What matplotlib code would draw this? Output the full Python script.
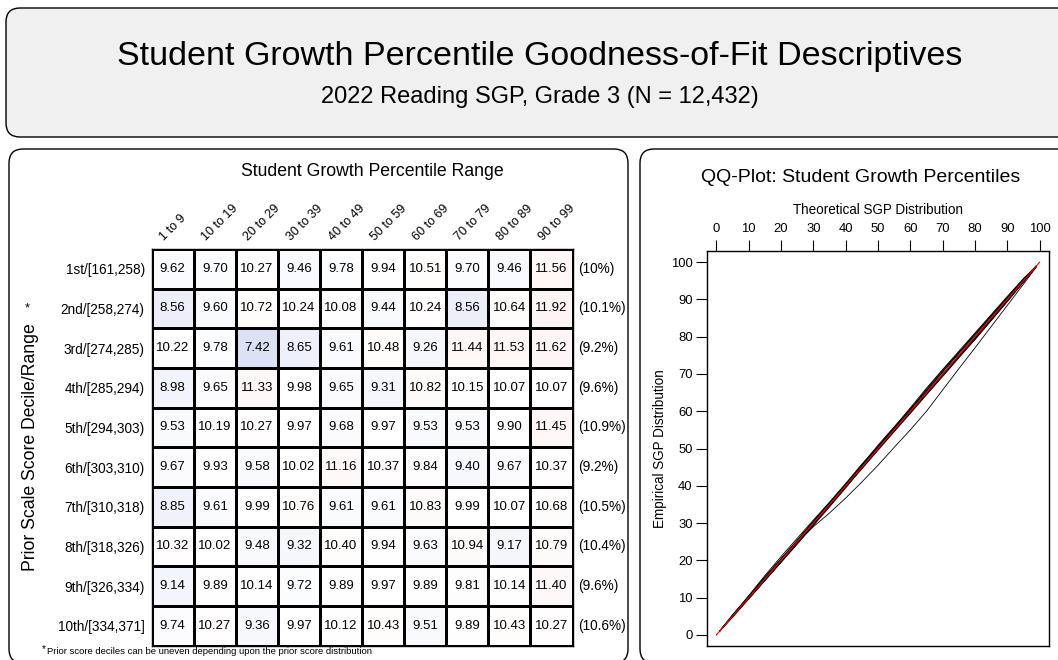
import numpy as np
import matplotlib.pyplot as plt
from matplotlib.patches import FancyBboxPatch
from matplotlib.colors import LinearSegmentedColormap, TwoSlopeNorm

plt.rcParams['font.family'] = ['Liberation Sans', 'DejaVu Sans']

W, H = 1058, 660

# table data: % of students in each SGP range, by prior score decile
col_labels = ["1 to 9", "10 to 19", "20 to 29", "30 to 39", "40 to 49",
              "50 to 59", "60 to 69", "70 to 79", "80 to 89", "90 to 99"]
row_labels = ["1st/[161,258)", "2nd/[258,274)", "3rd/[274,285)", "4th/[285,294)",
              "5th/[294,303)", "6th/[303,310)", "7th/[310,318)", "8th/[318,326)",
              "9th/[326,334)", "10th/[334,371]"]
sgp_pct = np.array([
    [9.62, 9.70, 10.27, 9.46, 9.78, 9.94, 10.51, 9.70, 9.46, 11.56],
    [8.56, 9.60, 10.72, 10.24, 10.08, 9.44, 10.24, 8.56, 10.64, 11.92],
    [10.22, 9.78, 7.42, 8.65, 9.61, 10.48, 9.26, 11.44, 11.53, 11.62],
    [8.98, 9.65, 11.33, 9.98, 9.65, 9.31, 10.82, 10.15, 10.07, 10.07],
    [9.53, 10.19, 10.27, 9.97, 9.68, 9.97, 9.53, 9.53, 9.90, 11.45],
    [9.67, 9.93, 9.58, 10.02, 11.16, 10.37, 9.84, 9.40, 9.67, 10.37],
    [8.85, 9.61, 9.99, 10.76, 9.61, 9.61, 10.83, 9.99, 10.07, 10.68],
    [10.32, 10.02, 9.48, 9.32, 10.40, 9.94, 9.63, 10.94, 9.17, 10.79],
    [9.14, 9.89, 10.14, 9.72, 9.89, 9.97, 9.89, 9.81, 10.14, 11.40],
    [9.74, 10.27, 9.36, 9.97, 10.12, 10.43, 9.51, 9.89, 10.43, 10.27],
])
row_share = ["(10%)", "(10.1%)", "(9.2%)", "(9.6%)", "(10.9%)",
             "(9.2%)", "(10.5%)", "(10.4%)", "(9.6%)", "(10.6%)"]

# QQ plot: empirical SGP quantiles at theoretical points
qq_theory = [1, 5, 10, 15, 20, 25, 30, 35, 40, 45, 50, 55, 60, 65, 70, 75, 80, 85, 90, 95, 99]
qq_lines = [
    [1, 5.0, 10.0, 15.0, 19.8, 24.7, 29.0, 32.7, 36.7, 41.0, 45.5, 50.3, 55.0, 60.0, 65.7, 71.4, 77.0, 82.7, 88.4, 94.1, 98.7],
    [1, 5.3, 10.4, 15.6, 20.5, 25.3, 30.4, 35.5, 40.6, 45.8, 50.6, 55.7, 60.9, 66.2, 71.2, 76.1, 81.0, 85.9, 90.8, 95.6, 99],
    [1, 5.1, 10.2, 15.3, 20.2, 25.1, 30.2, 35.2, 40.3, 45.4, 50.2, 55.3, 60.4, 65.4, 70.5, 75.4, 80.3, 85.3, 90.2, 95.2, 99],
    [1, 4.9, 9.9, 14.8, 19.9, 24.8, 29.8, 34.9, 39.9, 44.8, 49.9, 54.8, 59.8, 64.7, 69.8, 74.8, 79.7, 84.8, 89.8, 94.9, 99],
    [1, 4.7, 9.6, 14.5, 19.5, 24.6, 29.6, 34.6, 39.6, 44.5, 49.5, 54.5, 59.4, 64.4, 69.3, 74.3, 79.2, 84.3, 89.4, 94.6, 98.8],
    [1, 5.2, 10.5, 15.9, 21.0, 25.9, 30.8, 35.6, 40.5, 45.6, 50.9, 55.8, 60.7, 65.6, 70.7, 75.7, 80.6, 85.5, 90.5, 95.4, 99],
    [1, 4.8, 9.7, 14.6, 19.4, 24.3, 29.5, 34.7, 39.8, 44.9, 50.0, 55.1, 60.2, 65.1, 70.0, 74.9, 79.9, 84.9, 89.9, 94.8, 99],
    [1, 5.0, 10.0, 15.1, 20.3, 25.4, 30.5, 35.3, 40.1, 45.1, 50.1, 55.0, 59.9, 64.9, 69.9, 74.6, 79.3, 84.4, 89.5, 94.7, 98.9],
    [1, 5.4, 10.3, 15.2, 20.0, 24.9, 29.9, 35.0, 40.2, 45.3, 50.4, 55.4, 60.4, 65.9, 71.0, 75.8, 80.8, 85.7, 90.6, 95.5, 99],
    [1, 4.9, 9.8, 14.7, 19.6, 24.5, 29.3, 34.3, 39.4, 44.7, 49.8, 54.6, 59.6, 64.6, 69.6, 74.5, 79.5, 84.6, 89.7, 94.8, 99],
]
ref_line = [0, 100]
axis_ticks = [0, 10, 20, 30, 40, 50, 60, 70, 80, 90, 100]

fig = plt.figure(figsize=(W / 100, H / 100), dpi=100)
bg = fig.add_axes([0, 0, 1, 1])
bg.set_xlim(0, W)
bg.set_ylim(H, 0)
bg.axis('off')


def panel(x0, y0, x1, y1, fc):
    bg.add_patch(FancyBboxPatch((x0, y0), x1 - x0, y1 - y0,
                                boxstyle='round,pad=0,rounding_size=14',
                                fc=fc, ec='black', lw=1.0))


def px_axes(x0, y0, x1, y1):
    return fig.add_axes([x0 / W, 1 - y1 / H, (x1 - x0) / W, (y1 - y0) / H])


panel(6, 8, 1100, 137, '#f0f0f0')
panel(9, 149, 628, 663, 'white')
panel(640, 149, 1100, 663, 'white')

bg.text(540, 57, "Student Growth Percentile Goodness-of-Fit Descriptives",
        fontsize=24.5, ha='center', va='center')
bg.text(540, 97, "2022 Reading SGP, Grade 3 (N = 12,432)",
        fontsize=17, ha='center', va='center')

# ---- left panel: table
bg.text(372.5, 172, "Student Growth Percentile Range", fontsize=12.7,
        ha='center', va='center')
bg.text(31, 447, "Prior Scale Score Decile/Range", fontsize=12.7,
        rotation=90, ha='center', va='center')
bg.text(27, 308, "*", fontsize=9, ha='center', va='center')
bg.text(42, 649, "*", fontsize=7, ha='left', va='center')
bg.text(47, 652, "Prior score deciles can be uneven depending upon the prior score distribution",
        fontsize=6.8, ha='left', va='center')

tab = px_axes(151.7, 249, 572.5, 645.5)
cmap = LinearSegmentedColormap.from_list('gof', ['#bcc8ee', 'white', '#f6c8c4'])
norm = TwoSlopeNorm(vmin=5, vcenter=10, vmax=20)
tab.pcolormesh(sgp_pct, cmap=cmap, norm=norm, edgecolors='black', linewidth=1.0)
tab.set_xlim(0, 10)
tab.set_ylim(10, 0)
for s in tab.spines.values():
    s.set_linewidth(1.0)
tab.set_xticks([])
tab.set_yticks(np.arange(10) + 0.5, row_labels, fontsize=9.8)
tab.tick_params(axis='y', length=0, pad=5)

for i in range(10):
    for j in range(10):
        tab.text(j + 0.5, i + 0.5, f"{sgp_pct[i, j]:.2f}", ha='center',
                 va='center', fontsize=9.5)
    tab.text(10.13, i + 0.5, row_share[i], ha='left', va='center', fontsize=9.8)

for j, lab in enumerate(col_labels):
    tab.text(j + 0.3, -0.2, lab, rotation=45, rotation_mode='anchor',
             ha='left', va='baseline', fontsize=9)

# ---- right panel: QQ plot
bg.text(861, 177, "QQ-Plot: Student Growth Percentiles", fontsize=14,
        ha='center', va='center')

qq = px_axes(706.7, 251, 1049.3, 646)
for line in qq_lines:
    qq.plot(qq_theory, line, color='black', lw=0.6)
qq.plot(ref_line, ref_line, color='red', lw=0.8)
qq.set_xlim(-3, 103)
qq.set_ylim(-3, 103)
qq.set_xticks(axis_ticks)
qq.set_yticks(axis_ticks)
qq.xaxis.tick_top()
qq.xaxis.set_label_position('top')
qq.tick_params(axis='x', top=True, bottom=False, length=7.7, width=0.8,
               labelsize=9.4, pad=4)
qq.tick_params(axis='y', left=True, right=False, length=7.7, width=0.8,
               labelsize=9.4, pad=2.4)
for s in qq.spines.values():
    s.set_linewidth(1.0)
qq.set_xlabel("Theoretical SGP Distribution", fontsize=9.75, labelpad=6)
qq.set_ylabel("Empirical SGP Distribution", fontsize=9.75, labelpad=3)

fig.savefig("out.png", dpi=100)
